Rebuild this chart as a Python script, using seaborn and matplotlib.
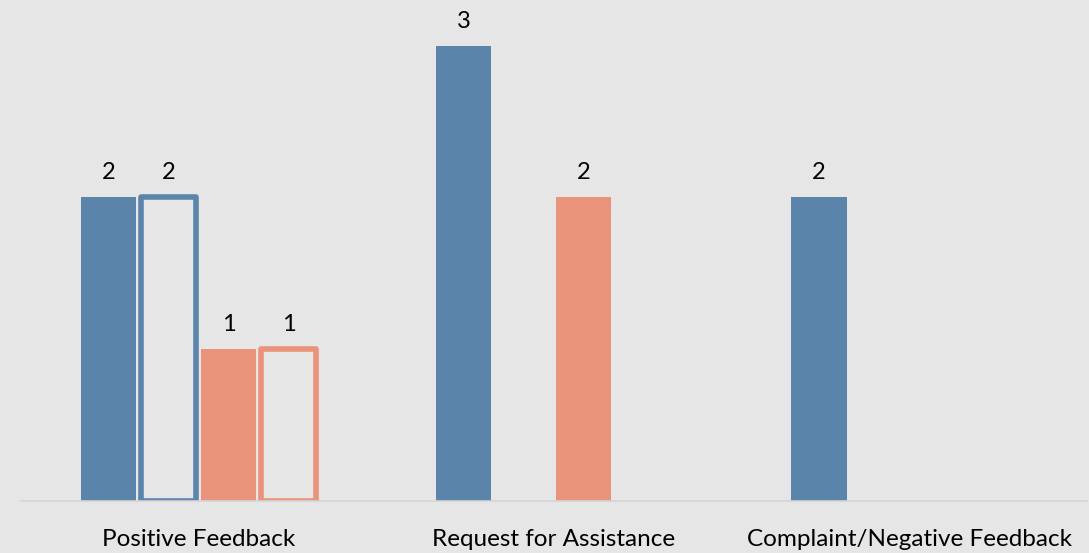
import pandas as pd
import matplotlib
matplotlib.use("Agg")
import matplotlib.pyplot as plt
import seaborn as sns

# Data
categories = ["Positive Feedback", "Request for Assistance", "Complaint/Negative Feedback"]
series = ["Series 1", "Series 2", "Series 3", "Series 4"]
values = {
    "Series 1": [2, 3, 2],
    "Series 2": [2, None, None],
    "Series 3": [1, 2, None],
    "Series 4": [1, None, None],
}

blue = "#5B84AB"
salmon = "#E8937A"
bg = "#E6E6E6"
palette = {"Series 1": blue, "Series 2": blue, "Series 3": salmon, "Series 4": salmon}
hollow = {"Series 2", "Series 4"}

rows = []
for s in series:
    for c, v in zip(categories, values[s]):
        rows.append({"category": c, "series": s, "count": v})
df = pd.DataFrame(rows)

sns.set_theme(style="white")
plt.rcParams["font.family"] = ["Lato", "DejaVu Sans"]

fig = plt.figure(figsize=(10.89, 5.53), dpi=100)
fig.patch.set_facecolor(bg)
ax = fig.add_axes([0.019, 0.094, 0.979, 0.906])
ax.set_facecolor(bg)

sns.barplot(
    data=df, x="category", y="count", hue="series",
    order=categories, hue_order=series, palette=palette,
    width=0.676, gap=0.08, saturation=1, legend=False, ax=ax,
)

for s, cont in zip(series, ax.containers):
    for bar in cont:
        if s in hollow:
            bar.set_facecolor("none")
            bar.set_edgecolor(palette[s])
            bar.set_linewidth(4)
            bar.set_joinstyle("round")
        else:
            bar.set_edgecolor("none")
    ax.bar_label(cont, fmt="%g", padding=10, fontsize=17, color="black")

ax.set_xlim(-0.5, 2.5)
ax.set_ylim(0, 3.3)
ax.set_xlabel("")
ax.set_ylabel("")
ax.set_yticks([])
ax.tick_params(axis="x", length=0, labelsize=17.5, pad=20, colors="black")
for side in ["top", "right", "left"]:
    ax.spines[side].set_visible(False)
ax.spines["bottom"].set_color("#D4D4D4")
ax.spines["bottom"].set_linewidth(1.2)

fig.savefig("out.png", dpi=100, facecolor=bg)
